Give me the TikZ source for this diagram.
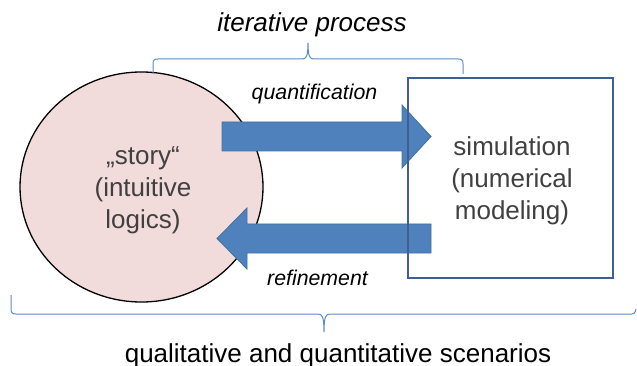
\documentclass[tikz,border=0pt]{standalone}
\usepackage{fontspec}
\setmainfont{Liberation Sans}
\usetikzlibrary{shapes.geometric}
\definecolor{storyfill}{HTML}{F2DCDB}
\definecolor{arrowfill}{HTML}{4F81BD}
\definecolor{arrowline}{HTML}{41719C}
\definecolor{boxline}{HTML}{3F5F93}
\definecolor{bracecol}{HTML}{5B8AC6}
\definecolor{graytext}{HTML}{404040}
\begin{document}
\begin{tikzpicture}[x=1pt,y=-1pt,
  bigtext/.style={font=\fontsize{26}{32}\selectfont, text=graytext, align=center, inner sep=0pt},
  captext/.style={font=\fontsize{26}{31}\selectfont, inner sep=0pt, anchor=base},
  smalltext/.style={font=\fontsize{21.3}{26}\selectfont\itshape, inner sep=0pt, anchor=base},
  blockarrow/.style={fill=arrowfill, draw=arrowline, line width=0.8pt, line join=miter},
  bracestyle/.style={draw=bracecol, line width=1pt}]
\useasboundingbox (0,0) rectangle (637,366);
% story ellipse
\node[draw=black, line width=1.3pt, fill=storyfill, ellipse, minimum width=243pt, minimum height=230pt, inner sep=0pt] (story) at (141.5,187) {};
\node[bigtext] (storytext) at (143,190) {„story“\\(intuitive\\logics)};
% arrows
\filldraw[blockarrow] (222,122) -- (402,122) -- (402,105) -- (431,136.5) -- (402,168) -- (402,151) -- (222,151) -- cycle;
\filldraw[blockarrow] (431,224) -- (247,224) -- (247,208) -- (217,238.5) -- (247,269) -- (247,253) -- (431,253) -- cycle;
% simulation box
\node[draw=boxline, line width=1.4pt, minimum width=205pt, minimum height=200pt, inner sep=0pt] (sim) at (510.5,178) {};
\node[bigtext] (simtext) at (512,181) {simulation\\(numerical\\modeling)};
% labels
\node[smalltext] (quant) at (314.5,100) {quantification};
\node[smalltext] (refine) at (317.5,285) {refinement};
\node[captext, font=\fontsize{26}{31}\selectfont\itshape] (iter) at (312,32) {iterative process};
\node[captext] (scen) at (338,362) {qualitative and quantitative scenarios};
% top brace
\draw[bracestyle] (153,74) -- (153,64) .. controls (153,60) and (154.5,59) .. (158,59) -- (302,59) .. controls (306,59) and (308,57) .. (308,43) .. controls (308,57) and (310,59) .. (314,59) -- (458,59) .. controls (461.5,59) and (463,60) .. (463,64) -- (463,74);
% bottom brace
\draw[bracestyle] (11,295) -- (11,309) .. controls (11,313) and (12.5,314) .. (16,314) -- (318,314) .. controls (322,314) and (324,316) .. (324,332) .. controls (324,316) and (326,314) .. (330,314) -- (632,314) .. controls (634,314) and (635,313) .. (636,309);
\end{tikzpicture}
\end{document}
